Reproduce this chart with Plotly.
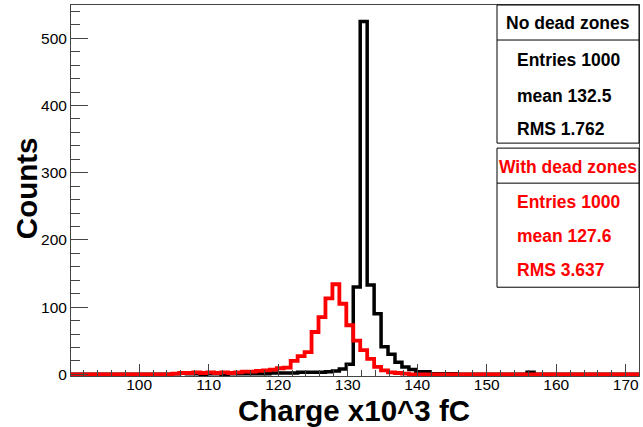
import numpy as np
import plotly.graph_objects as go

# histogram binning: 1 fC-unit bins, low edges 89.8 ... 171.8
bin_low = np.arange(89.8, 172.0, 1.0)

# counts per bin
black_counts = [
    0, 0, 0, 0, 0, 0, 0, 0, 0, 0,            # 89.8 - 98.8
    0, 0, 0, 0, 0, 1, 2, 1, 1, 0,            # 99.8 - 108.8
    1, 1, 0, 1, 1, 1, 1, 1, 1, 2,            # 109.8 - 118.8
    2, 2, 2, 3, 3, 3, 3, 4, 5, 8,            # 119.8 - 128.8
    15, 130, 525, 133, 90, 41, 30, 18, 11, 7,  # 129.8 - 138.8
    4, 4, 1, 1, 1, 1, 0, 0, 0, 0,            # 139.8 - 148.8
    0, 0, 0, 0, 0, 0, 3, 0, 0, 0,            # 149.8 - 158.8
    0, 0, 0, 0, 0, 0, 0, 0, 0, 0,            # 159.8 - 168.8
    0, 0, 0,                                 # 169.8 - 171.8
]
red_counts = [
    0, 0, 0, 0, 0, 0, 0, 0, 0, 0,
    0, 0, 0, 0, 0, 1, 2, 2, 3, 2,
    3, 2, 3, 2, 3, 4, 4, 5, 6, 7,
    9, 10, 20, 27, 33, 63, 85, 113, 134, 105,
    73, 50, 36, 23, 11, 6, 3, 2, 1, 0,
    0, 0, 0, 0, 0, 0, 0, 0, 0, 0,
    0, 0, 0, 0, 0, 0, 0, 0, 0, 0,
    0, 0, 0, 0, 0, 0, 0, 0, 0, 0,
    0, 0, 0,
]

stats_black = ["Entries 1000", "mean 132.5", "RMS 1.762"]
stats_red = ["Entries 1000", "mean 127.6", "RMS 3.637"]

W, H = 643, 427
L, R, T, B = 71, 639, 5, 375.7


def step(counts):
    xs = list(bin_low) + [bin_low[-1] + 1.0]
    ys = list(counts) + [counts[-1]]
    return xs, ys


fig = go.Figure()
for counts, col, lw in ((black_counts, "black", 3.5), (red_counts, "#ff0000", 3.8)):
    xs, ys = step(counts)
    fig.add_trace(go.Scatter(x=xs, y=ys, mode="lines", line_shape="hv",
                             line=dict(color=col, width=lw), showlegend=False))


def px(x):
    return (x - L) / (R - L)


def py(y):
    return (B - y) / (B - T)


shapes = []
annots = []
font = "Liberation Sans, Arial, sans-serif"
for (top, bot, head_y, title, lines, ys, col) in (
        (5, 143, 40, "No dead zones", stats_black, (23, 60, 96, 129), "black"),
        (148, 287, 183, "With dead zones", stats_red, (167, 202, 236, 270), "#ff0000")):
    shapes.append(dict(type="rect", xref="paper", yref="paper", layer="above",
                       x0=px(497), x1=px(639), y0=py(bot), y1=py(top),
                       line=dict(color="black", width=1), fillcolor="white"))
    shapes.append(dict(type="line", xref="paper", yref="paper", layer="above",
                       x0=px(497), x1=px(639), y0=py(head_y), y1=py(head_y),
                       line=dict(color="black", width=1)))
    annots.append(dict(text="<b>%s</b>" % title, xref="paper", yref="paper",
                       x=px(567.5), y=py(ys[0]), xanchor="center", yanchor="middle",
                       showarrow=False, font=dict(family=font, size=17.5, color=col)))
    for t, yy in zip(lines, ys[1:]):
        annots.append(dict(text="<b>%s</b>" % t, xref="paper", yref="paper",
                           x=px(515), y=py(yy), xanchor="left", yanchor="middle",
                           showarrow=False, font=dict(family=font, size=17.5, color=col)))

annots.append(dict(text="<b>Charge x10^3 fC</b>", xref="paper", yref="paper",
                   x=px(354), y=py(410), xanchor="center", yanchor="middle",
                   showarrow=False, font=dict(family=font, size=29.5, color="black")))
annots.append(dict(text="<b>Counts</b>", xref="paper", yref="paper", textangle=-90,
                   x=px(26), y=py(188), xanchor="center", yanchor="middle",
                   showarrow=False, font=dict(family=font, size=29.5, color="black")))

fig.update_layout(
    width=W, height=H,
    margin=dict(l=L, r=W - R, t=T, b=H - B, pad=0),
    paper_bgcolor="white", plot_bgcolor="white",
    font=dict(family=font, size=15.5, color="black"),
    shapes=shapes, annotations=annots,
    xaxis=dict(range=[90.2, 171.9], showgrid=False, zeroline=False,
               showline=True, mirror=True, linecolor="#444", linewidth=1,
               ticks="inside", ticklen=12, tickcolor="#444", dtick=10, tick0=100,
               tickfont=dict(size=15.5), ticklabelstandoff=-6,
               minor=dict(ticks="inside", ticklen=6, dtick=2, tickcolor="#444")),
    yaxis=dict(range=[-2.5, 549.6], showgrid=False, zeroline=False,
               showline=True, mirror=True, linecolor="#444", linewidth=1,
               ticks="inside", ticklen=17, tickcolor="#444", dtick=100, tick0=0,
               tickfont=dict(size=15.5),
               minor=dict(ticks="inside", ticklen=9, dtick=20, tickcolor="#444")),
)

fig.write_html("out.html", config={"displayModeBar": False},
               post_script="document.body.style.margin='0';document.body.style.overflow='hidden';")
